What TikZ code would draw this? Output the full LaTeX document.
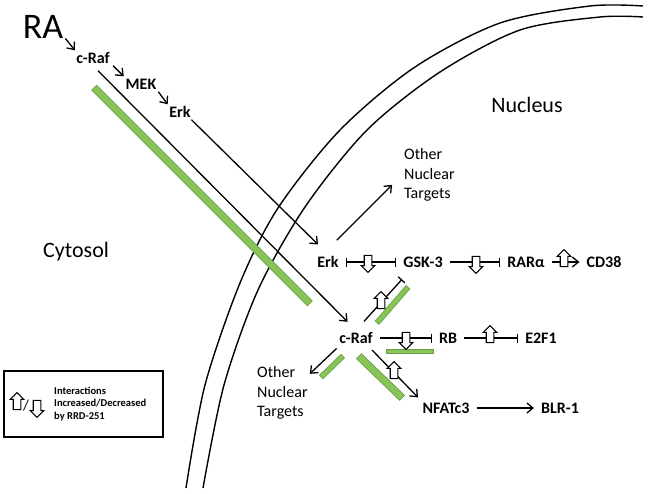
\documentclass[tikz,border=0pt]{standalone}
\usepackage{fontspec}
\setmainfont{Carlito}
\usetikzlibrary{arrows.meta,shapes.arrows}
\definecolor{barfill}{RGB}{137,197,86}
\definecolor{barline}{RGB}{104,160,72}
\tikzset{
  lbl/.style={inner ysep=2pt,inner xsep=7pt,text height=11pt,text depth=0pt,font=\bfseries\fontsize{16}{18}\selectfont},
  region/.style={inner sep=2pt,font=\fontsize{22}{24}\selectfont},
  targets/.style={inner sep=2pt,align=left,anchor=west,font=\fontsize{16}{19.2}\selectfont},
  link/.style={line width=1.3pt,-{Straight Barb[length=6pt,width=10pt]}},
  block/.style={line width=1.3pt,-{Bar[width=9pt]}},
  bothblock/.style={line width=1.3pt,{Bar[width=9pt]}-{Bar[width=9pt]}},
  membrane/.style={line width=1.4pt},
  greenbar/.style={draw=barline,fill=barfill,line width=.7pt,inner sep=0pt},
  uparrow/.style={single arrow,draw,fill=white,line width=1.1pt,inner sep=0pt,minimum height=17pt,minimum width=12.5pt,single arrow head extend=3pt,single arrow head indent=0pt,shape border rotate=90,text width=6.5pt},
  downarrow/.style={uparrow,shape border rotate=270}
}
\begin{document}
\begin{tikzpicture}[x=1pt,y=-1pt]
\useasboundingbox (0,0) rectangle (648,493);

\draw[membrane] plot[smooth] coordinates {(186,488) (205,385) (240,283) (278,208) (340,130) (415,67) (500,23) (590,6) (643,6)};
\draw[membrane] plot[smooth] coordinates {(203,488) (224,385) (258,290) (305,207) (367,130) (440,72) (520,30) (600,17) (643,17)};

\node[greenbar,minimum width=305pt,minimum height=7pt,rotate=-45] (barcyto) at (202,195.5) {};
\node[greenbar,minimum width=47pt,minimum height=5pt,rotate=49] (bargsk) at (392.5,305) {};
\node[greenbar,minimum width=47pt,minimum height=4pt] (barrb) at (409.5,351) {};
\node[greenbar,minimum width=30pt,minimum height=5pt,rotate=44] (barother) at (332,366.5) {};
\node[greenbar,minimum width=60pt,minimum height=7pt,rotate=-44] (barnfat) at (380.5,377) {};

\node[inner sep=2pt,font=\fontsize{36}{40}\selectfont] (ra) at (43,27) {RA};
\node[lbl] (craftop) at (93,58) {c-Raf};
\node[lbl] (mek) at (141,84) {MEK};
\node[lbl] (erktop) at (180,112) {Erk};
\node[region] (nucleus) at (527,105) {Nucleus};
\node[region] (cytosol) at (76,252) {Cytosol};
\node[targets] (othertop) at (402,175) {Other\\Nuclear\\Targets};
\node[targets] (otherlow) at (255,393) {Other\\Nuclear\\Targets};
\node[lbl] (erk) at (328,262) {Erk};
\node[lbl] (gsk) at (423,262) {GSK-3};
\node[lbl] (rara) at (526,262) {RARα};
\node[lbl] (cd) at (604,262) {CD38};
\node[lbl] (craf) at (356,338) {c-Raf};
\node[lbl] (rb) at (448,338) {RB};
\node[lbl] (ef) at (541,338) {E2F1};
\node[lbl] (nfat) at (446,408) {NFATc3};
\node[lbl] (blr) at (560,408) {BLR-1};

\draw[link] (ra.-27) -- (craftop.157);
\draw[link] (craftop.-21) -- (mek.156);
\draw[link] (mek.-24) -- (erktop.148);
\draw[link,shorten >=14pt] (erktop.-34) -- (erk.north);
\draw[link,shorten <=7pt,shorten >=12pt] (craftop.south) -- (craf.north);
\draw[link,shorten <=20pt,shorten >=14pt] (erk.125) -- (othertop.west);
\draw[bothblock] (erk.east) -- (gsk.west);
\draw[block] (gsk.east) -- (rara.west);
\draw[link] (rara.east) -- (cd.west);
\draw[block,shorten <=12pt,shorten >=13pt] (craf.north) -- (gsk.-148);
\draw[block] (craf.east) -- (rb.west);
\draw[block] (rb.east) -- (ef.west);
\draw[link,shorten <=6pt,shorten >=4pt] (craf.-33) -- (nfat.163);
\draw[link,shorten <=4pt] (craf.-155) -- (otherlow.35);
\draw[link] (nfat.east) -- (blr.west);

\node[downarrow] (dnerk) at (368,262) {};
\node[downarrow] (dngsk) at (476,263) {};
\node[uparrow] (uprar) at (564,260) {};
\node[uparrow] (upraf) at (381,302) {};
\node[downarrow] (dnrb) at (406,339) {};
\node[uparrow] (upef) at (490,336) {};
\node[uparrow] (upnfat) at (394,372) {};

\node[draw,line width=2pt,minimum width=159pt,minimum height=66pt,inner sep=0pt] (legend) at (83.5,404) {};
\node[uparrow] (legup) at (17,403) {};
\node[inner sep=0pt,font=\fontsize{15}{18}\selectfont] (legslash) at (26,406) {/};
\node[downarrow] (legdn) at (37,407) {};
\node[inner sep=0pt,align=left,anchor=west,font=\bfseries\fontsize{10.5}{12.6}\selectfont] (legtext) at (54,404) {Interactions\\Increased/Decreased\\by RRD-251};
\end{tikzpicture}
\end{document}
